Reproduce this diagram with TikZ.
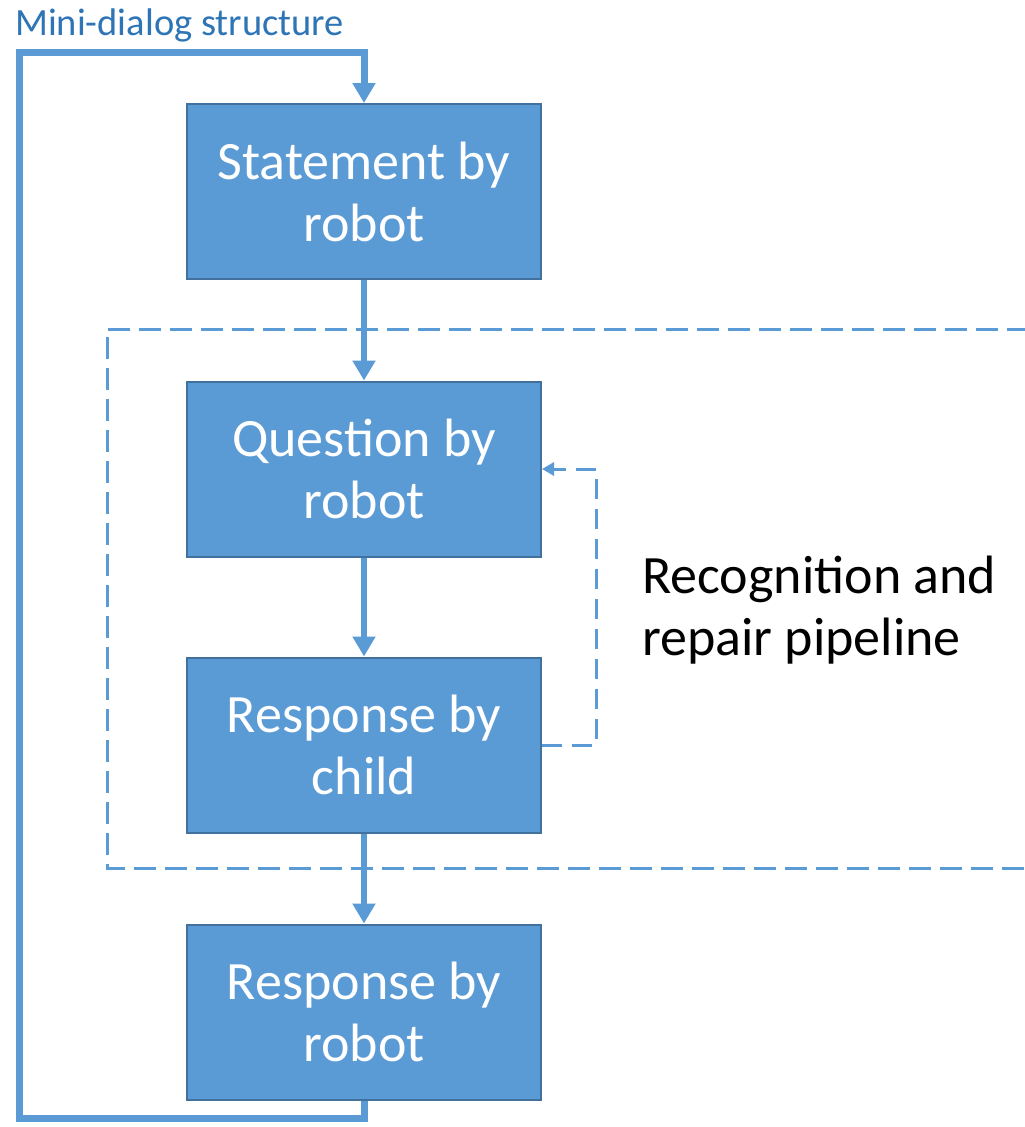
\documentclass[tikz,border=0pt]{standalone}
\usepackage{fontspec}
\setmainfont{Carlito}
\usetikzlibrary{arrows.meta,calc}
\definecolor{boxfill}{HTML}{5B9BD5}
\definecolor{boxline}{HTML}{41719C}
\definecolor{titleblue}{HTML}{2E75B6}
\tikzset{
  flowbox/.style={rectangle, minimum width=354pt, minimum height=175pt, fill=boxfill, draw=boxline, line width=2pt, text=white, align=center, inner sep=0pt, font=\fontsize{54}{62}\selectfont},
  mainarrow/.style={draw=boxfill, line width=6.5pt, -{Triangle[width=22pt,length=20pt]}},
  loopline/.style={draw=boxfill, line width=7pt, miter limit=10},
  groupbox/.style={draw=boxfill, line width=3pt, dash pattern=on 22pt off 9pt},
  repairarrow/.style={draw=boxfill, line width=3pt, dash pattern=on 20pt off 10pt, -{Triangle[width=13pt,length=12pt]}}
}
\begin{document}
\begin{tikzpicture}[x=1pt,y=-1pt]
\clip (0,0) rectangle (1025,1127);
\fill[white] (0,0) rectangle (1025,1127);
% group dashed rectangle
\draw[groupbox] (1060,329) -- (107,329) -- (107,868) -- (1060,868);
% boxes
\node[flowbox] (s1) at (364,191.5) {Statement by\\robot};
\node[flowbox] (q2) at (364,469) {Question by\\robot};
\node[flowbox] (r3) at (364,745) {Response by\\child};
\node[flowbox] (r4) at (364,1012) {Response by\\robot};
% title and label
\node[anchor=base west, inner sep=0pt, text=titleblue, font=\fontsize{38.5}{46}\selectfont] (title) at (15,35) {Mini-dialog structure};
\node[anchor=west, inner sep=0pt, align=left, text=black, font=\fontsize{54}{62}\selectfont] (label) at (642,610) {Recognition and\\repair pipeline};
% arrows
\draw[mainarrow] (s1.south) -- (q2.north);
\draw[mainarrow] (q2.south) -- (r3.north);
\draw[mainarrow] (r3.south) -- (r4.north);
% loop
\coordinate (bl) at (19,1118);
\coordinate (tl) at (19,52);
\draw[loopline] (r4.south) |- (bl) -- (tl) -| ($(s1.north)+(0,-20)$);
\draw[mainarrow] ($(s1.north)+(0,-24)$) -- (s1.north);
% repair loop
\draw[repairarrow] (r3.east) -- ++(54,0) |- (q2.east);
\end{tikzpicture}
\end{document}
